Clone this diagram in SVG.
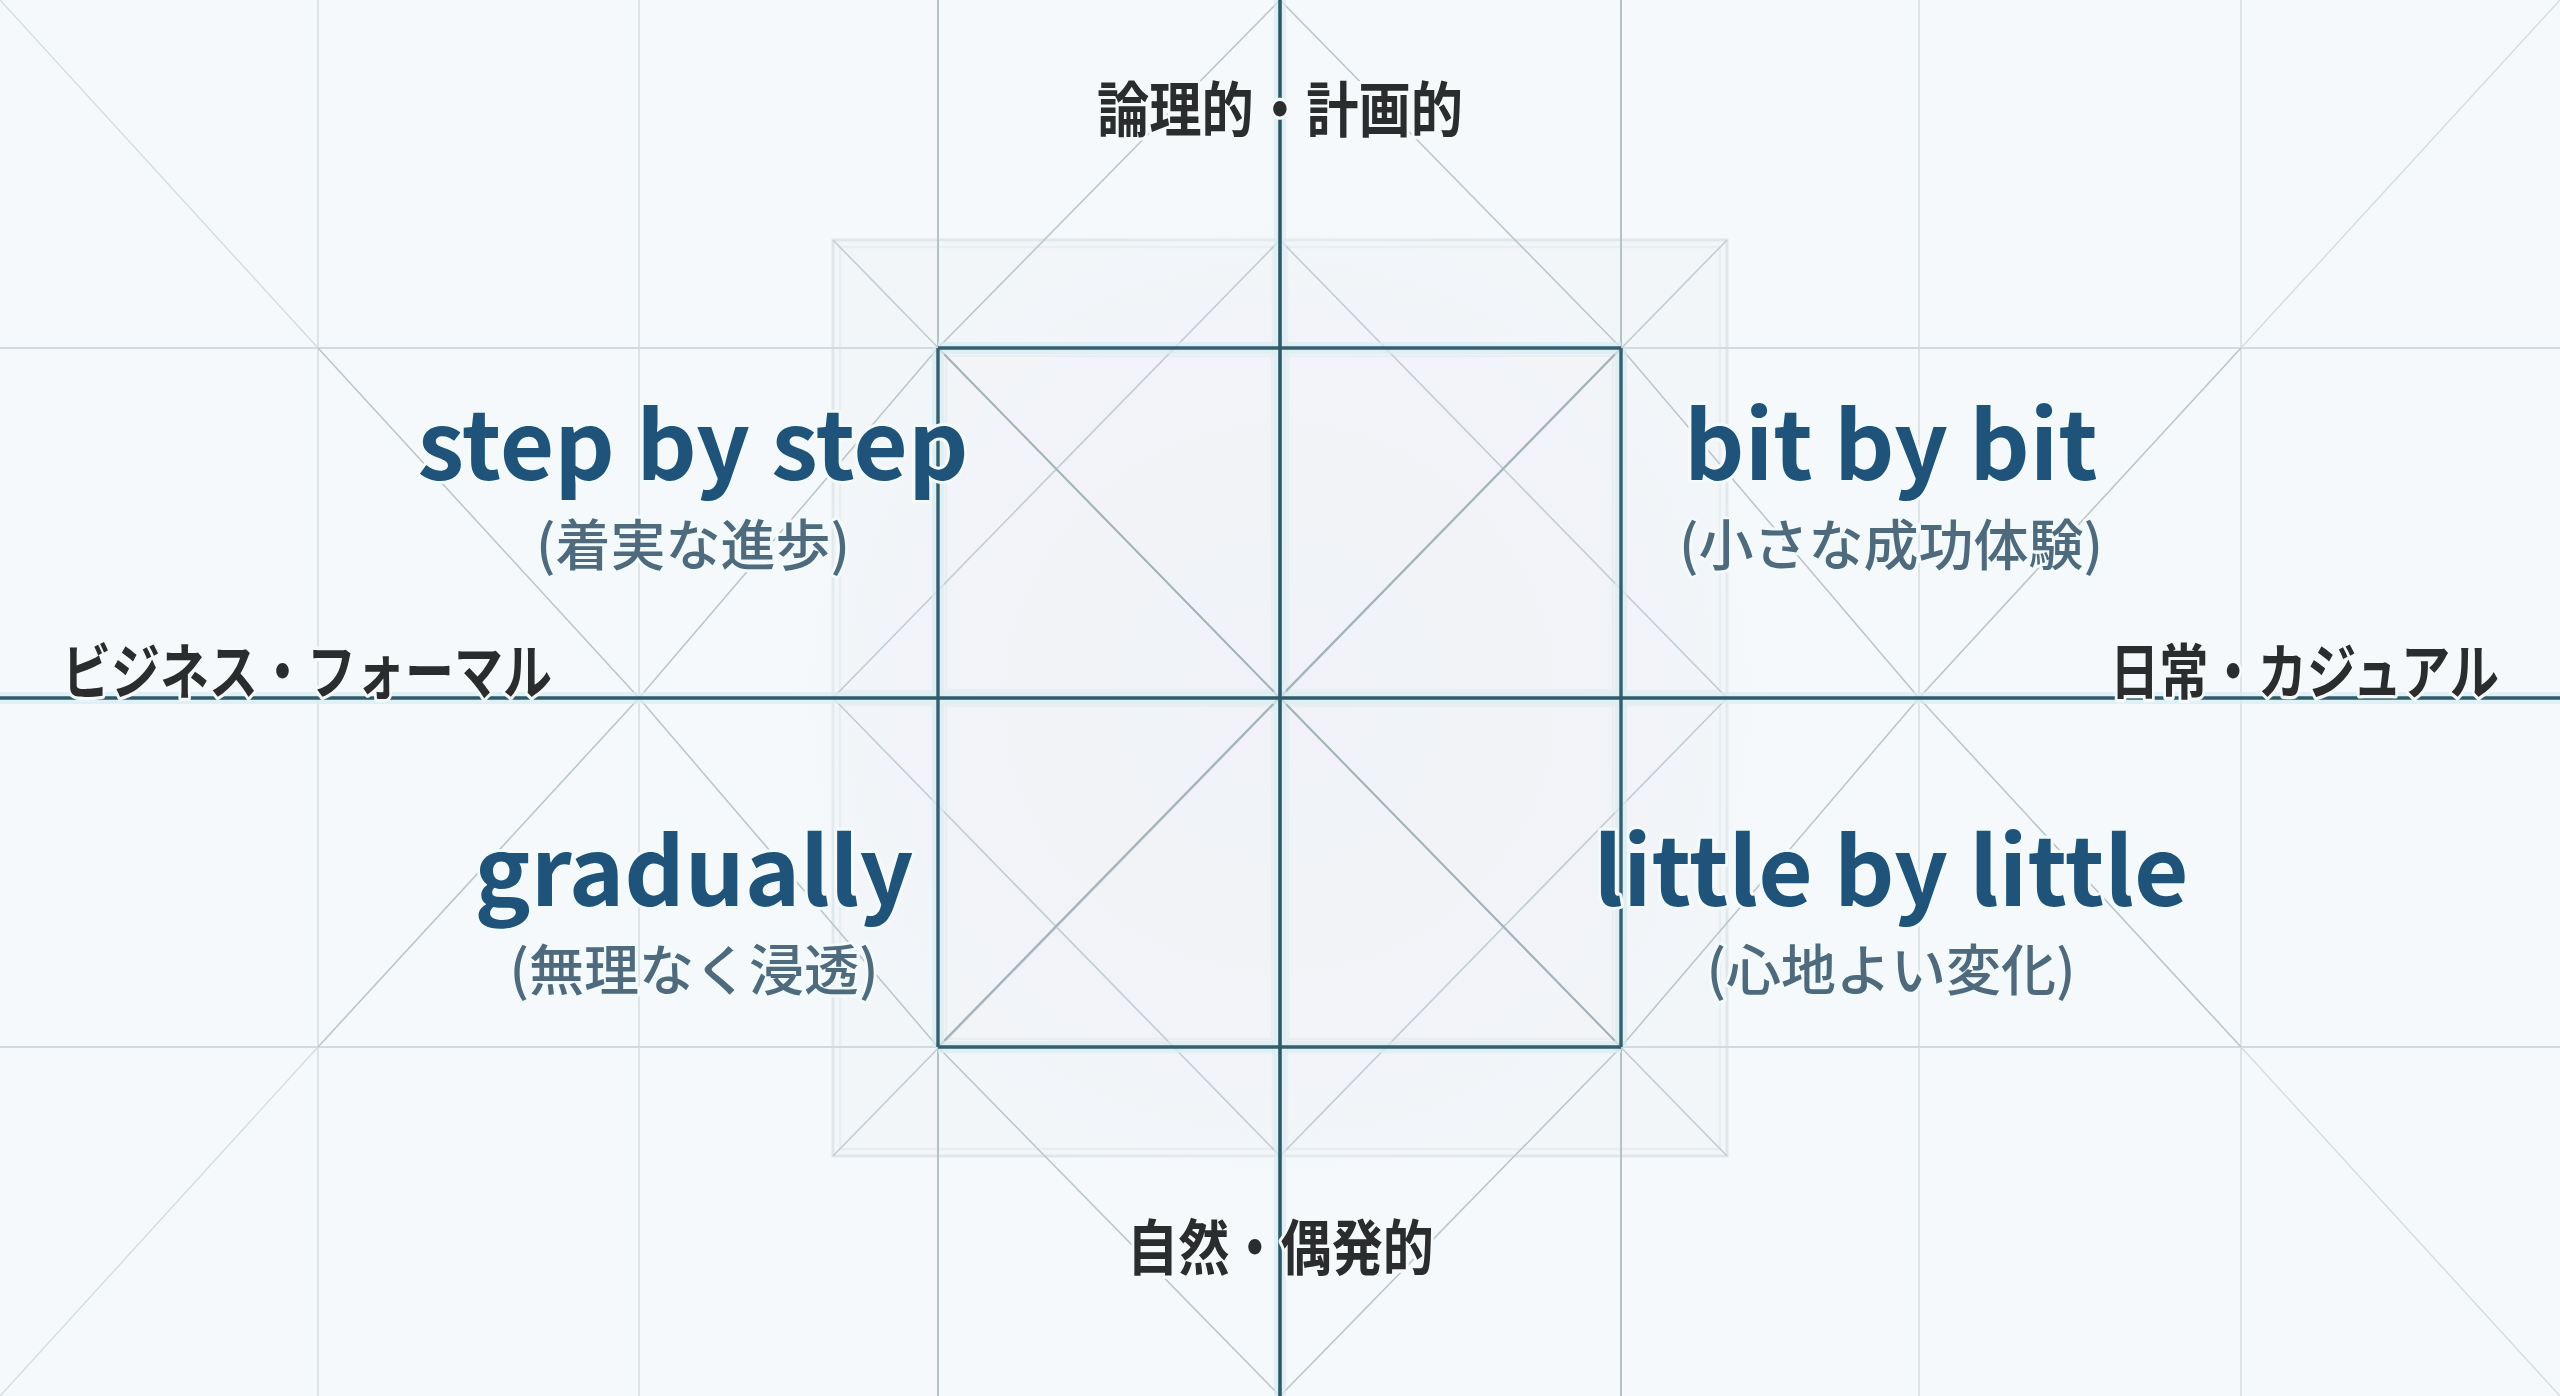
<svg xmlns="http://www.w3.org/2000/svg" width="2560" height="1396" viewBox="0 0 2560 1396">
<defs>
<style>
.grid{stroke:#d7dfe3;stroke-width:1.6;fill:none}
.gridh{stroke:#d2dadf;stroke-width:2.2;fill:none}
.mid{stroke:#b3c2c8;stroke-width:2;fill:none}
.dark{stroke:#355f6c;stroke-width:3.4;fill:none}
.axis{stroke:#2f5b68;stroke-width:3.6;fill:none}
.glow{stroke:#d6eef3;stroke-width:12;fill:none;opacity:0.7}
.diag{stroke:#bcc7cc;stroke-width:1.6;fill:none}
.diagf{stroke:#d6dde1;stroke-width:1.5;fill:none}
.diagin{stroke:#a3b3ba;stroke-width:2;fill:none}
.diagl{stroke:#c3cdd2;stroke-width:1.6;fill:none}
.inset{stroke:#e9eef1;stroke-width:2.5;fill:none}
.en{font-family:"Noto Sans CJK JP","Source Sans 3","Noto Sans",sans-serif;font-weight:700;font-size:94px;fill:#1f5379;text-anchor:middle;stroke:#f3fafc;stroke-width:6;paint-order:stroke;stroke-linejoin:round}
.ja{font-family:"Noto Sans CJK JP",sans-serif;font-weight:500;font-size:55px;fill:#4e6a7c;text-anchor:middle;stroke:#f3fafc;stroke-width:6;paint-order:stroke;stroke-linejoin:round}
.ax{font-family:"Noto Sans CJK JP",sans-serif;font-weight:700;font-size:54px;fill:#2a2c2e;stroke:#f6f9fa;stroke-width:6;paint-order:stroke;stroke-linejoin:round}
</style>
<radialGradient id="halo" cx="1280" cy="698" r="520" gradientUnits="userSpaceOnUse">
<stop offset="0" stop-color="#edeff6" stop-opacity="0.7"/>
<stop offset="0.75" stop-color="#eff1f7" stop-opacity="0.45"/>
<stop offset="1" stop-color="#f5f9fb" stop-opacity="0"/>
</radialGradient>
</defs>
<rect width="2560" height="1396" fill="#f5f9fb"/>

<g id="background-shapes">
<rect x="833" y="240" width="894" height="916" fill="#f3f6f9" stroke="#e0e7eb" stroke-width="3"/>
<circle cx="1280" cy="698" r="520" fill="url(#halo)"/>
<rect x="938" y="348" width="683" height="699" fill="#f1f3f7" opacity="0.5"/>
<rect x="840" y="247" width="433" height="444" class="inset"/>
<rect x="1287" y="247" width="433" height="444" class="inset"/>
<rect x="840" y="705" width="433" height="444" class="inset"/>
<rect x="1287" y="705" width="433" height="444" class="inset"/>
<rect x="946" y="356" width="326" height="334" class="inset"/>
<rect x="1288" y="356" width="325" height="334" class="inset"/>
<rect x="946" y="706" width="326" height="333" class="inset"/>
<rect x="1288" y="706" width="325" height="333" class="inset"/>
</g>

<g id="connectors">
<path class="grid" d="M318 0V1396M639 0V1396M1919 0V1396M2241 0V1396"/>
<path class="gridh" d="M0 348H938M1621 348H2560M0 1047H938M1621 1047H2560"/>
<path class="mid" d="M938 0V348M938 1047V1396M1621 0V348M1621 1047V1396"/>
<path class="diagf" d="M0 0L318 348M0 1396L318 1047M2560 0L2241 348M2560 1396L2241 1047"/>
<path class="diag" d="M318 348L639 698L938 1047L1280 1396M1280 0L938 348L639 698L318 1047"/>
<path class="diag" d="M2241 348L1919 698L1621 1047L1280 1396M1280 0L1621 348L1919 698L2241 1047"/>
<path class="diagl" d="M833 240L1727 1156M1727 240L833 1156M1280 240L833 698L1280 1156L1727 698Z"/>
<path class="diagin" d="M938 348L1621 1047M1621 348L938 1047"/>
<path class="glow" d="M938 348H1621M938 1047H1621M938 348V1047M1621 348V1047M1280 0V1396M0 698H2560"/>
<path class="dark" d="M938 348H1621M938 1047H1621M938 348V1047M1621 348V1047"/>
<path class="axis" d="M1280 0V1396M0 698H2560"/>
</g>

<g id="label-top">
<text class="ax" transform="translate(1097 132) scale(1 1.12)" x="0" y="0" textLength="366" lengthAdjust="spacingAndGlyphs">論理的・計画的</text>
</g>
<g id="label-bottom">
<text class="ax" transform="translate(1127 1270) scale(1 1.12)" x="0" y="0" textLength="307" lengthAdjust="spacingAndGlyphs">自然・偶発的</text>
</g>
<g id="label-left">
<text class="ax" transform="translate(62 694) scale(1 1.12)" x="0" y="0" textLength="490" lengthAdjust="spacingAndGlyphs">ビジネス・フォーマル</text>
</g>
<g id="label-right">
<text class="ax" transform="translate(2110 694) scale(1 1.12)" x="0" y="0" textLength="389" lengthAdjust="spacingAndGlyphs">日常・カジュアル</text>
</g>

<g id="q-step-by-step">
<text class="en" x="693" y="480">step by step</text>
<text class="ja" x="693" y="565">(着実な進歩)</text>
</g>
<g id="q-bit-by-bit">
<text class="en" x="1891" y="480">bit by bit</text>
<text class="ja" x="1891" y="565">(小さな成功体験)</text>
</g>
<g id="q-gradually">
<text class="en" x="694" y="906">gradually</text>
<text class="ja" x="694" y="990">(無理なく浸透)</text>
</g>
<g id="q-little-by-little">
<text class="en" x="1891" y="906">little by little</text>
<text class="ja" x="1891" y="990">(心地よい変化)</text>
</g>
</svg>
